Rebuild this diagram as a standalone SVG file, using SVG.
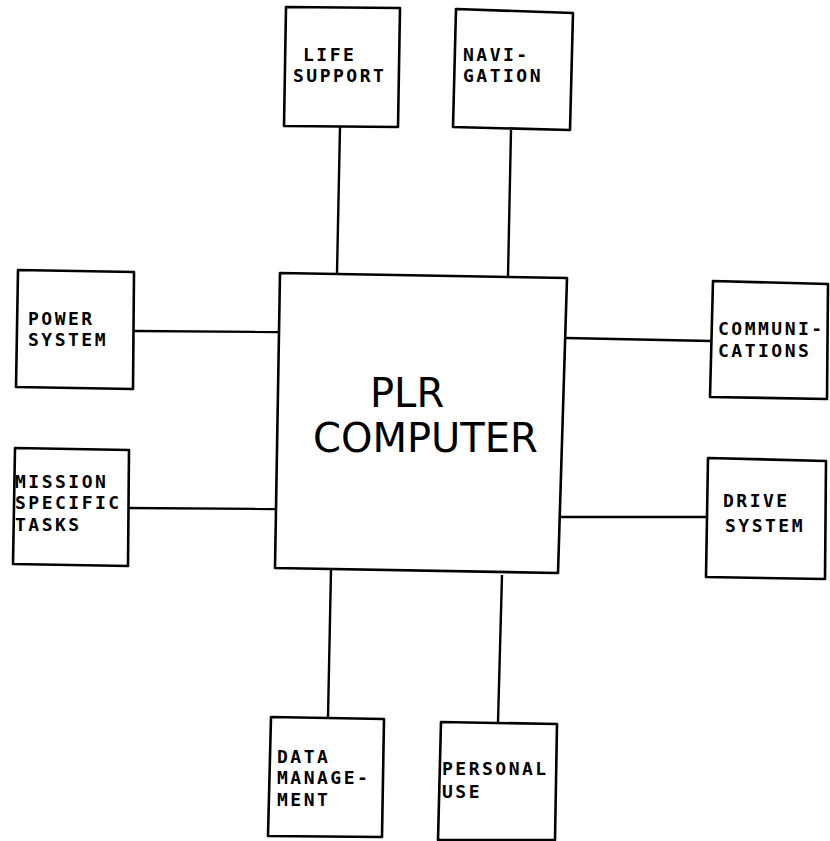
<svg xmlns="http://www.w3.org/2000/svg" width="830" height="841" viewBox="0 0 830 841">
<style>
.box{fill:none;stroke:#000;stroke-width:2.6;stroke-linejoin:round}
.conn line{stroke:#000;stroke-width:2.4}
.lbl{font-family:"DejaVu Sans Mono","Liberation Mono",monospace;font-weight:bold;font-size:18px;letter-spacing:2.5px;fill:#000}
.big{font-family:"DejaVu Sans","Liberation Sans",sans-serif;font-size:40px;fill:#000}
</style>
<rect width="830" height="841" fill="#fff"/>
<g id="connectors" class="conn">
<line x1="340" y1="127" x2="337" y2="273"/>
<line x1="511" y1="130" x2="508" y2="276"/>
<line x1="134" y1="331" x2="278" y2="332"/>
<line x1="128" y1="508" x2="275" y2="509"/>
<line x1="566" y1="338" x2="711" y2="341"/>
<line x1="561" y1="517" x2="707" y2="517"/>
<line x1="331" y1="570" x2="328" y2="717"/>
<line x1="502" y1="575" x2="498" y2="722"/>
</g>
<g id="plr-computer">
<polygon class="box" points="280,273 567,278 558,573 275,568"/>
<text class="big" x="370" y="407">PLR</text>
<text class="big" x="313" y="452">COMPUTER</text>
</g>
<g id="life-support">
<polygon class="box" points="286,7 400,8 398,127 284,126"/>
<text class="lbl" x="303" y="61">LIFE</text>
<text class="lbl" x="293" y="82">SUPPORT</text>
</g>
<g id="navigation">
<polygon class="box" points="456,9 573,13 570,130 453,127"/>
<text class="lbl" x="463" y="61">NAVI-</text>
<text class="lbl" x="463" y="82">GATION</text>
</g>
<g id="power-system">
<polygon class="box" points="18,270 134,272 133,389 16,387"/>
<text class="lbl" x="28" y="325">POWER</text>
<text class="lbl" x="28" y="346">SYSTEM</text>
</g>
<g id="mission-specific-tasks">
<polygon class="box" points="15,448 129,450 128,566 13,564"/>
<text class="lbl" x="15" y="488">MISSION</text>
<text class="lbl" x="15" y="509">SPECIFIC</text>
<text class="lbl" x="15" y="531">TASKS</text>
</g>
<g id="communications">
<polygon class="box" points="713,281 828,284 827,399 710,397"/>
<text class="lbl" x="718" y="335">COMMUNI-</text>
<text class="lbl" x="718" y="357">CATIONS</text>
</g>
<g id="drive-system">
<polygon class="box" points="708,458 826,461 825,579 706,577"/>
<text class="lbl" x="723" y="507">DRIVE</text>
<text class="lbl" x="725" y="532">SYSTEM</text>
</g>
<g id="data-management">
<polygon class="box" points="271,717 384,719 382,837 268,836"/>
<text class="lbl" x="277" y="763">DATA</text>
<text class="lbl" x="277" y="784">MANAGE-</text>
<text class="lbl" x="277" y="806">MENT</text>
</g>
<g id="personal-use">
<polygon class="box" points="441,722 557,724 555,840 438,840"/>
<text class="lbl" x="442" y="775">PERSONAL</text>
<text class="lbl" x="442" y="798">USE</text>
</g>
</svg>
